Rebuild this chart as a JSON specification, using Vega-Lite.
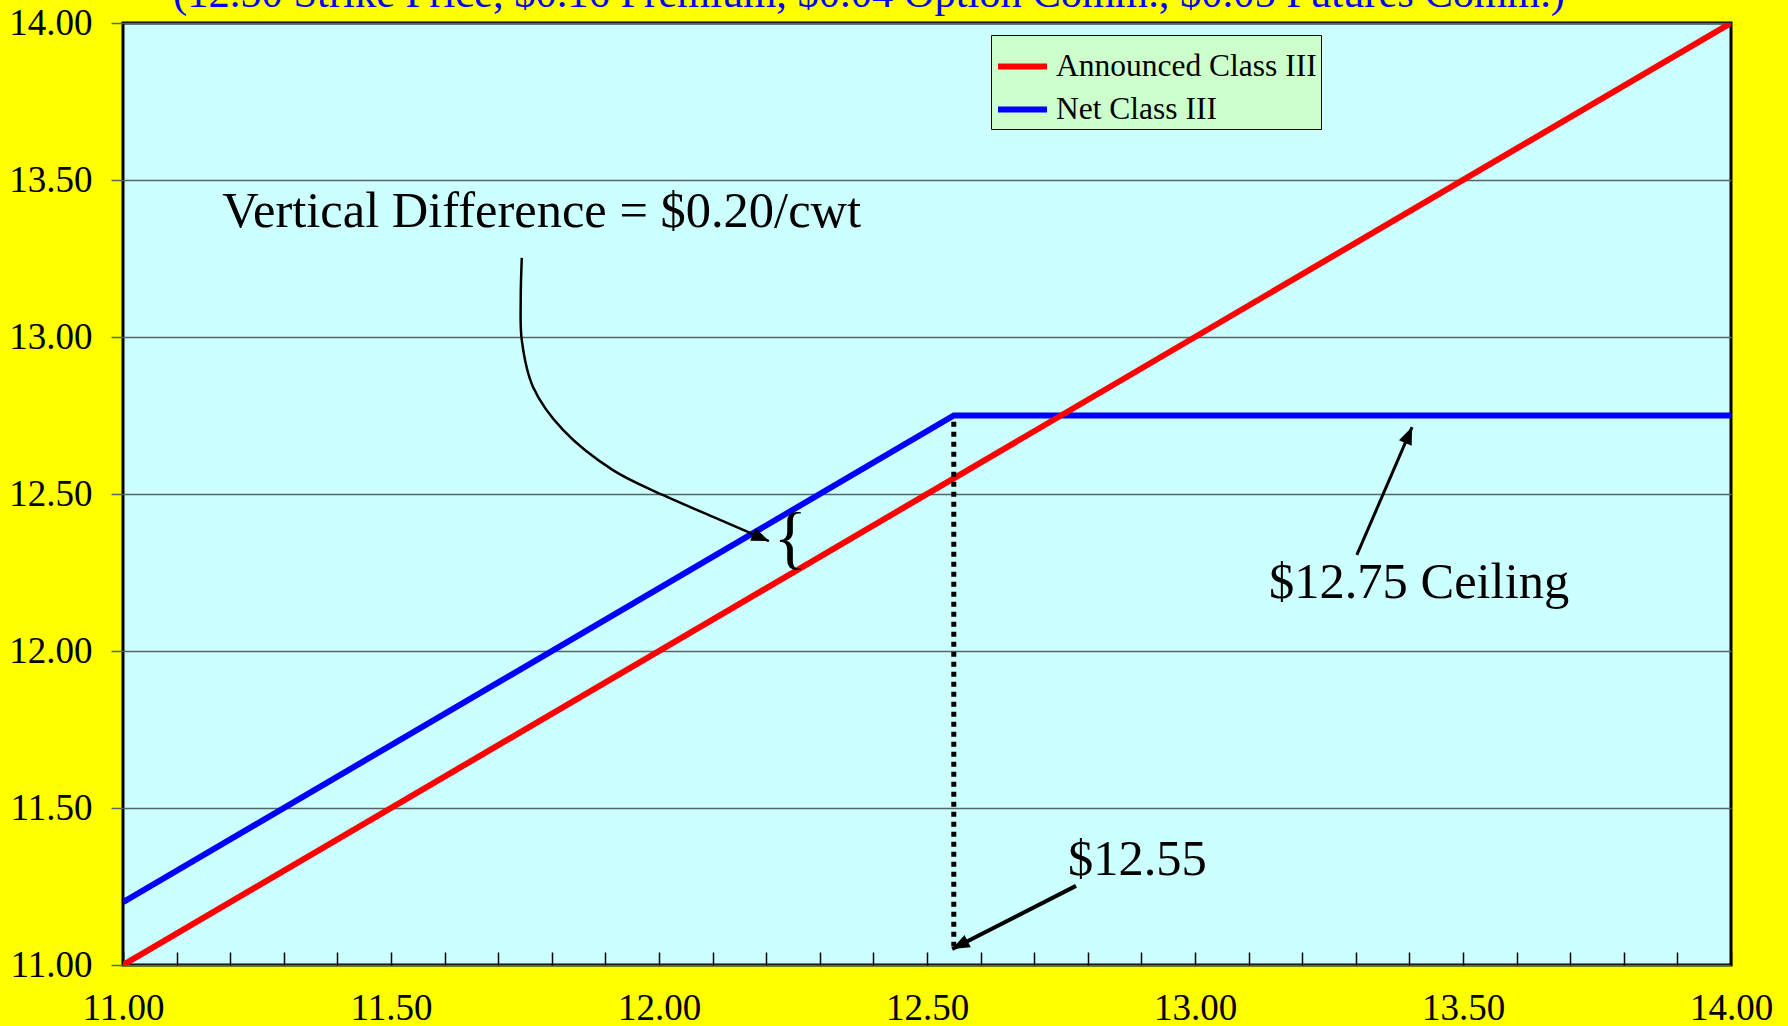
{
  "$schema": "https://vega.github.io/schema/vega-lite/v6.json",
  "width": 1608,
  "height": 942,
  "autosize": {"type": "none"},
  "padding": {"left": 123, "top": 23, "right": 57, "bottom": 61},
  "background": "#FFFF00",
  "title": {
    "text": "(12.50 Strike Price, $0.16 Premium, $0.04 Option Comm., $0.05 Futures Comm.)",
    "font": "Liberation Serif",
    "fontSize": 42.5,
    "fontWeight": "normal",
    "color": "#0000FF",
    "anchor": "middle",
    "frame": "group",
    "baseline": "alphabetic",
    "offset": 0,
    "dy": 45,
    "dx": -58
  },
  "config": {
    "view": {"fill": "#CCFFFF", "stroke": "#000000", "strokeWidth": 3},
    "axis": {
      "labelFont": "Liberation Serif",
      "labelFontSize": 37,
      "labelColor": "#000000",
      "labelFlush": false,
      "labelOverlap": false,
      "title": null,
      "domain": false,
      "tickColor": "#000000",
      "tickWidth": 1.5
    }
  },
  "datasets": {
    "lines": [
      {"series": "Net Class III", "price": 11.0, "value": 11.2},
      {"series": "Net Class III", "price": 12.55, "value": 12.75},
      {"series": "Net Class III", "price": 14.0, "value": 12.75},
      {"series": "Announced Class III", "price": 11.0, "value": 11.0},
      {"series": "Announced Class III", "price": 14.0, "value": 14.0}
    ],
    "strike": [
      {"price": 12.55, "value": 12.73},
      {"price": 12.55, "value": 11.06}
    ],
    "curve": [
      {"step": 1, "price": 11.744, "value": 13.252},
      {"step": 2, "price": 11.742, "value": 13.118},
      {"step": 3, "price": 11.744, "value": 12.99},
      {"step": 4, "price": 11.765, "value": 12.841},
      {"step": 5, "price": 11.821, "value": 12.704},
      {"step": 6, "price": 11.914, "value": 12.576},
      {"step": 7, "price": 12.007, "value": 12.497},
      {"step": 8, "price": 12.101, "value": 12.427},
      {"step": 9, "price": 12.205, "value": 12.35}
    ],
    "ceilingArrow": [
      {"price": 13.302, "value": 12.306},
      {"price": 13.405, "value": 12.713}
    ],
    "strikeArrow": [
      {"price": 12.778, "value": 11.252},
      {"price": 12.547, "value": 11.051}
    ],
    "labels": [
      {"label": "Vertical Difference = $0.20/cwt", "price": 11.185, "value": 13.398},
      {"label": "$12.75 Ceiling", "price": 13.138, "value": 12.217},
      {"label": "$12.55", "price": 12.763, "value": 11.334}
    ]
  },
  "layer": [
    {
      "data": {"name": "lines"},
      "transform": [{"filter": "datum.series == 'Net Class III'"}],
      "mark": {"type": "line", "strokeWidth": 6, "clip": true},
      "encoding": {
        "x": {
          "field": "price", "type": "quantitative",
          "scale": {"domain": [11, 14], "nice": false, "zero": false},
          "axis": {
            "values": [11.0, 11.1, 11.2, 11.3, 11.4, 11.5, 11.6, 11.7, 11.8, 11.9, 12.0, 12.1, 12.2, 12.3, 12.4, 12.5, 12.6, 12.7, 12.8, 12.9, 13.0, 13.1, 13.2, 13.3, 13.4, 13.5, 13.6, 13.7, 13.8, 13.9, 14.0],
            "labelExpr": "(round(datum.value*10) % 5 == 0) ? format(datum.value, '.2f') : ''",
            "grid": false,
            "tickSize": -13,
            "labelPadding": 38
          }
        },
        "y": {
          "field": "value", "type": "quantitative",
          "scale": {"domain": [11, 14], "nice": false, "zero": false},
          "axis": {
            "values": [11.0, 11.5, 12.0, 12.5, 13.0, 13.5, 14.0],
            "format": ".2f",
            "grid": true,
            "gridColor": "#556666",
            "gridWidth": 1.3,
            "tickSize": 12,
            "tickColor": "#556666",
            "labelPadding": 19
          }
        },
        "color": {
          "field": "series", "type": "nominal",
          "scale": {"domain": ["Announced Class III", "Net Class III"], "range": ["#FF0000", "#0000FF"]},
          "legend": {
            "title": null,
            "orient": "none",
            "legendX": 868,
            "legendY": 12,
            "direction": "vertical",
            "fillColor": "#CCFFCC",
            "strokeColor": "#000000",
            "padding": 4,
            "rowPadding": -2,
            "symbolType": "stroke",
            "symbolStrokeWidth": 6,
            "symbolSize": 2400,
            "labelFont": "Liberation Serif",
            "labelFontSize": 31.5,
            "labelColor": "#000000",
            "labelOffset": 6,
            "labelLimit": 400
          }
        }
      }
    },
    {
      "data": {"name": "lines"},
      "transform": [{"filter": "datum.series == 'Announced Class III'"}],
      "mark": {"type": "line", "strokeWidth": 6, "clip": true},
      "encoding": {
        "x": {"field": "price", "type": "quantitative"},
        "y": {"field": "value", "type": "quantitative"},
        "color": {"field": "series", "type": "nominal"}
      }
    },
    {
      "data": {"name": "strike"},
      "mark": {"type": "line", "color": "#000000", "strokeWidth": 5, "strokeDash": [5, 5]},
      "encoding": {
        "x": {"field": "price", "type": "quantitative"},
        "y": {"field": "value", "type": "quantitative"}
      }
    },
    {
      "data": {"name": "curve"},
      "mark": {"type": "line", "color": "#000000", "strokeWidth": 2.5, "interpolate": "catmull-rom"},
      "encoding": {
        "x": {"field": "price", "type": "quantitative"},
        "y": {"field": "value", "type": "quantitative"},
        "order": {"field": "step"}
      }
    },
    {
      "data": {"name": "curve"},
      "transform": [{"filter": "datum.step == 9"}],
      "mark": {"type": "point", "shape": "M0,0L-0.8,2L0.8,2Z", "filled": true, "color": "#000000", "opacity": 1, "size": 300, "angle": 113},
      "encoding": {
        "x": {"field": "price", "type": "quantitative"},
        "y": {"field": "value", "type": "quantitative"}
      }
    },
    {
      "data": {"name": "ceilingArrow"},
      "mark": {"type": "line", "color": "#000000", "strokeWidth": 3},
      "encoding": {
        "x": {"field": "price", "type": "quantitative"},
        "y": {"field": "value", "type": "quantitative"}
      }
    },
    {
      "data": {"name": "ceilingArrow"},
      "transform": [{"filter": "datum.value > 12.5"}],
      "mark": {"type": "point", "shape": "M0,0L-0.8,2L0.8,2Z", "filled": true, "color": "#000000", "opacity": 1, "size": 300, "angle": 23},
      "encoding": {
        "x": {"field": "price", "type": "quantitative"},
        "y": {"field": "value", "type": "quantitative"}
      }
    },
    {
      "data": {"name": "strikeArrow"},
      "mark": {"type": "line", "color": "#000000", "strokeWidth": 4},
      "encoding": {
        "x": {"field": "price", "type": "quantitative"},
        "y": {"field": "value", "type": "quantitative"}
      }
    },
    {
      "data": {"name": "strikeArrow"},
      "transform": [{"filter": "datum.value < 11.1"}],
      "mark": {"type": "point", "shape": "M0,0L-0.8,2L0.8,2Z", "filled": true, "color": "#000000", "opacity": 1, "size": 300, "angle": 243},
      "encoding": {
        "x": {"field": "price", "type": "quantitative"},
        "y": {"field": "value", "type": "quantitative"}
      }
    },
    {
      "data": {"values": [{"label": "{", "price": 12.245, "value": 12.354}]},
      "mark": {"type": "text", "font": "Liberation Serif", "fontSize": 70, "align": "center", "baseline": "middle", "color": "#000000"},
      "encoding": {
        "x": {"field": "price", "type": "quantitative"},
        "y": {"field": "value", "type": "quantitative"},
        "text": {"field": "label"}
      }
    },
    {
      "data": {"name": "labels"},
      "mark": {"type": "text", "font": "Liberation Serif", "fontSize": 50.5, "align": "left", "baseline": "middle", "color": "#000000"},
      "encoding": {
        "x": {"field": "price", "type": "quantitative"},
        "y": {"field": "value", "type": "quantitative"},
        "text": {"field": "label"}
      }
    }
  ]
}
